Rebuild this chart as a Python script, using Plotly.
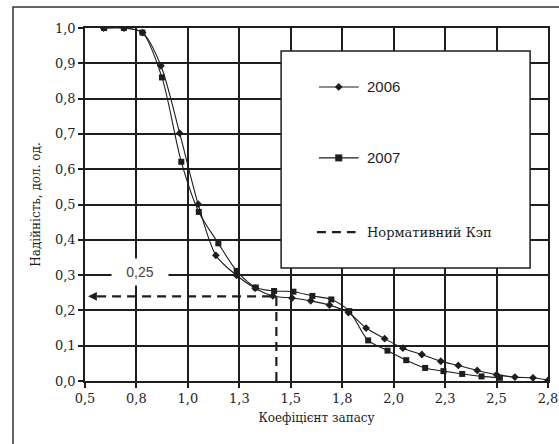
import plotly.graph_objects as go

# ---- data ----
x_2006 = [0.59, 0.69, 0.78, 0.869, 0.960, 1.050, 1.136, 1.237, 1.327, 1.413, 1.506, 1.597,
          1.688, 1.780, 1.866, 1.956, 2.045, 2.137, 2.229, 2.314, 2.406, 2.500, 2.589, 2.677, 2.75]
y_2006 = [1.0, 1.0, 0.987, 0.893, 0.702, 0.501, 0.356, 0.299, 0.263, 0.241, 0.235, 0.227,
          0.215, 0.194, 0.150, 0.120, 0.093, 0.075, 0.056, 0.044, 0.030, 0.018, 0.011, 0.009, 0.002]

x_2007 = [0.593, 0.689, 0.779, 0.874, 0.968, 1.053, 1.148, 1.237, 1.33, 1.419, 1.513, 1.605,
          1.697, 1.784, 1.876, 1.970, 2.061, 2.153, 2.242, 2.333, 2.427, 2.516]
y_2007 = [1.0, 1.0, 0.987, 0.860, 0.621, 0.479, 0.390, 0.312, 0.265, 0.255, 0.253, 0.241,
          0.231, 0.198, 0.115, 0.086, 0.059, 0.037, 0.028, 0.020, 0.013, 0.009]

norm_x = [1.43, 1.43, 0.545]
norm_y = [0.0, 0.24, 0.24]
norm_label = "0,25"

x_ticks = [0.5, 0.75, 1.0, 1.25, 1.5, 1.75, 2.0, 2.25, 2.5, 2.75]
x_ticktext = ["0,5", "0,8", "1,0", "1,3", "1,5", "1,8", "2,0", "2,3", "2,5", "2,8"]
y_ticks = [0.0, 0.1, 0.2, 0.3, 0.4, 0.5, 0.6, 0.7, 0.8, 0.9, 1.0]
y_ticktext = ["0,0", "0,1", "0,2", "0,3", "0,4", "0,5", "0,6", "0,7", "0,8", "0,9", "1,0"]

legend_names = ["2006", "2007", "Нормативний Кэп"]

INK = "#1e1e1e"
SERIF = "DejaVu Serif"
SANS = "Liberation Sans"

fig = go.Figure()

fig.add_trace(go.Scatter(x=norm_x, y=norm_y, mode="lines",
                         line=dict(color=INK, width=2.2, dash="9px,6px"),
                         showlegend=False, hoverinfo="skip"))
fig.add_trace(go.Scatter(x=x_2006, y=y_2006, mode="lines+markers",
                         line=dict(color=INK, width=1.1, shape="spline", smoothing=0.8),
                         marker=dict(symbol="diamond", size=6, color=INK),
                         showlegend=False))
fig.add_trace(go.Scatter(x=x_2007, y=y_2007, mode="lines+markers",
                         line=dict(color=INK, width=1.1, shape="spline", smoothing=0.8),
                         marker=dict(symbol="square", size=6, color=INK),
                         showlegend=False))

# legend box (manual)
lx0, lx1, ly0, ly1 = 1.453, 2.663, 0.320, 0.935
shapes = [
    dict(type="rect", xref="x", yref="y", x0=lx0, x1=lx1, y0=ly0, y1=ly1,
         line=dict(color=INK, width=1.5), fillcolor="white", layer="between"),
    # outer chart border
    dict(type="rect", xref="paper", yref="paper",
         x0=(13 - 85) / 463, x1=(575 - 85) / 463,
         y0=-(460 - 381) / 353, y1=(381 - 7) / 353,
         line=dict(color="#333", width=1.5), layer="below"),
]
rows = [0.833, 0.632, 0.422]
sx0, sx1, sxm = 1.637, 1.830, 1.733
for i, yy in enumerate(rows[:2]):
    shapes.append(dict(type="line", xref="x", yref="y", x0=sx0, x1=sx1, y0=yy, y1=yy,
                       line=dict(color=INK, width=1.1), layer="between"))
# dashed legend sample
shapes.append(dict(type="line", xref="x", yref="y", x0=sx0 - 0.01, x1=sx1 - 0.015,
                   y0=rows[2], y1=rows[2],
                   line=dict(color=INK, width=2.2, dash="9px,6px"), layer="between"))
fig.update_layout(shapes=shapes)

# legend markers as scatter on top
fig.add_trace(go.Scatter(x=[sxm], y=[rows[0]], mode="markers",
                         marker=dict(symbol="diamond", size=6, color=INK),
                         showlegend=False, hoverinfo="skip"))
fig.add_trace(go.Scatter(x=[sxm], y=[rows[1]], mode="markers",
                         marker=dict(symbol="square", size=7, color=INK),
                         showlegend=False, hoverinfo="skip"))

annotations = [
    dict(x=1.859, y=rows[0], xref="x", yref="y", text=legend_names[0], showarrow=False,
         xanchor="left", yanchor="middle", font=dict(family=SANS, size=15, color=INK)),
    dict(x=1.859, y=rows[1], xref="x", yref="y", text=legend_names[1], showarrow=False,
         xanchor="left", yanchor="middle", font=dict(family=SANS, size=15, color=INK)),
    dict(x=1.859, y=rows[2], xref="x", yref="y", text=legend_names[2], showarrow=False,
         xanchor="left", yanchor="middle", font=dict(family=SERIF, size=13, color=INK)),
    dict(x=0.766, y=0.31, xref="x", yref="y", text=norm_label, showarrow=False,
         bgcolor="white", borderpad=5, font=dict(family=SANS, size=14, color="#444"),
         xanchor="center", yanchor="middle", width=46),
    dict(x=0.515, y=0.24, xref="x", yref="y", ax=0.56, ay=0.24, axref="x", ayref="y",
         text="", showarrow=True, arrowhead=2, arrowsize=1.1, arrowwidth=1.6,
         arrowcolor=INK),
]
fig.update_layout(annotations=annotations)

axis_common = dict(showgrid=True, gridcolor=INK, gridwidth=1.6, showline=True,
                   linecolor=INK, linewidth=1.6, ticks="outside", ticklen=5,
                   tickcolor=INK, tickwidth=1.5, zeroline=False, automargin=False,
                   ticklabeloverflow="allow",
                   tickfont=dict(family=SERIF, size=13, color=INK))

fig.update_xaxes(range=[0.5, 2.75], tickvals=x_ticks, ticktext=x_ticktext,
                 title=dict(text="Коефіцієнт запасу", font=dict(family=SERIF, size=12, color=INK),
                            standoff=8),
                 mirror=True, **axis_common)
fig.update_yaxes(range=[0.0, 1.0], tickvals=y_ticks, ticktext=y_ticktext,
                 title=dict(text="Надійність, дол. од.", font=dict(family=SERIF, size=12, color=INK),
                            standoff=12),
                 mirror=True, **axis_common)

fig.update_layout(width=559, height=444,
                  margin=dict(l=85, r=11, t=28, b=63),
                  plot_bgcolor="white", paper_bgcolor="white",
                  font=dict(family=SERIF),
                  showlegend=False)

fig.write_html("out.html")
